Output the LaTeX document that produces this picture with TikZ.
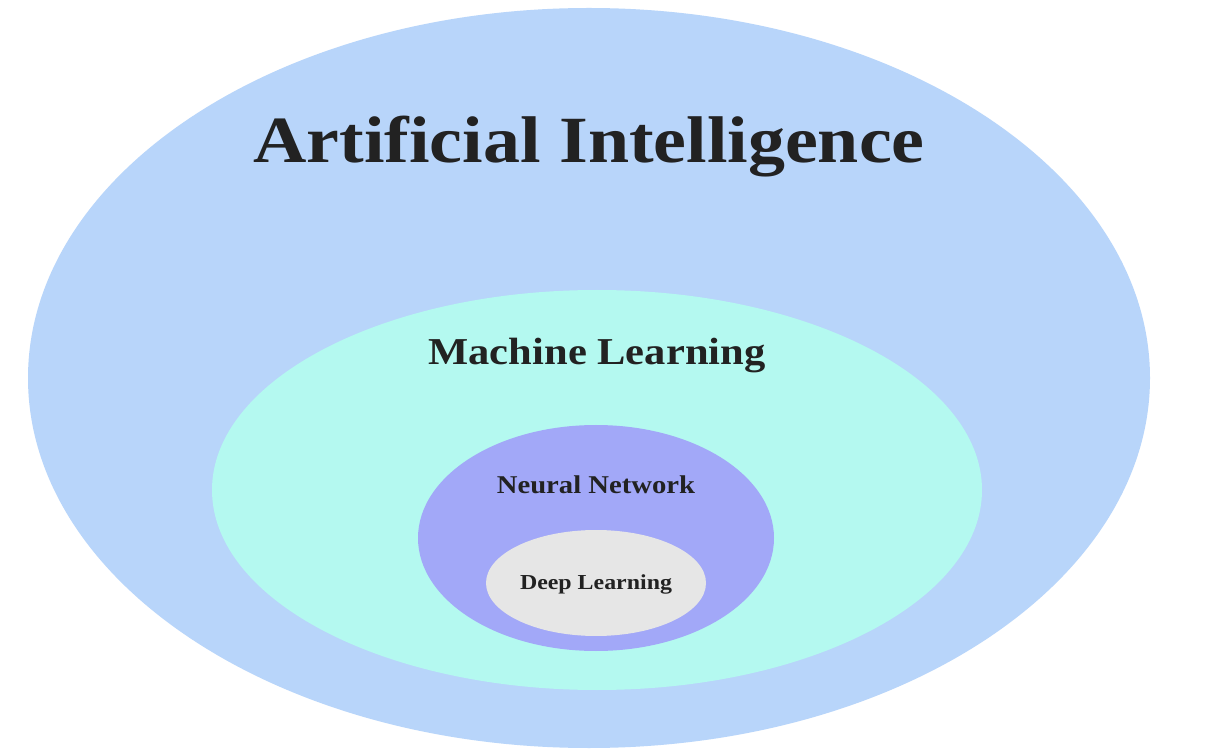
\documentclass[tikz,border=0pt]{standalone}
\usepackage{fontspec}
\setmainfont{Liberation Serif}[FakeStretch=1.12]
\usetikzlibrary{shapes.geometric}
\definecolor{aiblue}{HTML}{B8D5FA}
\definecolor{mlcyan}{HTML}{B4F9F0}
\definecolor{nnpurple}{HTML}{A2A8F8}
\definecolor{dlgrey}{HTML}{E6E6E6}
\definecolor{txt}{HTML}{222222}
\begin{document}
\begin{tikzpicture}[x=0.75pt,y=-0.75pt,
  lbl/.style={text=txt, inner sep=0pt}]
\fill[white] (0,0) rectangle (1214,755);
\useasboundingbox (0,0) rectangle (1214,755);
\fill[aiblue] (589,378) ellipse [x radius=561, y radius=370];
\fill[mlcyan] (597,490) ellipse [x radius=385, y radius=200];
\fill[nnpurple] (596,538) ellipse [x radius=178, y radius=113];
\fill[dlgrey] (596,583) ellipse [x radius=110, y radius=53];
\node[lbl, font=\bfseries\fontsize{49.5}{54}\selectfont] (ai) at (589,147) {Artificial Intelligence};
\node[lbl, font=\bfseries\fontsize{28.5}{32}\selectfont] (ml) at (597,356) {Machine Learning};
\node[lbl, font=\bfseries\fontsize{19.2}{22}\selectfont] (nn) at (596,485) {Neural Network};
\node[lbl, font=\bfseries\fontsize{16}{19}\selectfont] (dl) at (596,584) {Deep Learning};
\end{tikzpicture}
\end{document}
